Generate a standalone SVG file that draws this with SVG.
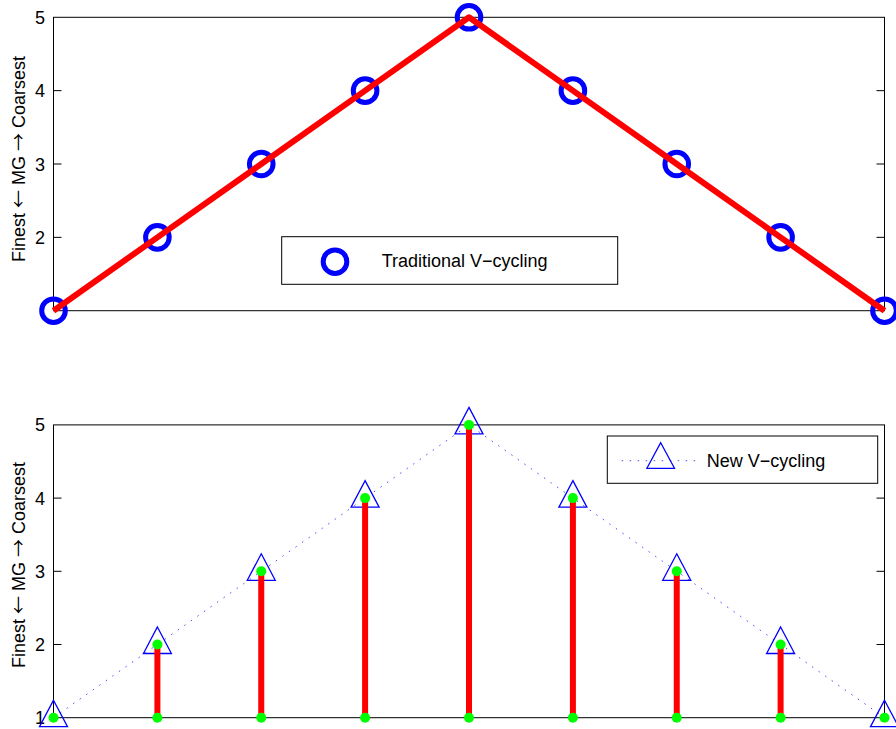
<svg xmlns="http://www.w3.org/2000/svg" xmlns:xlink="http://www.w3.org/1999/xlink" width="896" height="729" viewBox="0 0 896 729">
<style>
text{font-family:"Liberation Sans",Arial,sans-serif;font-size:18px;fill:#000}
.arr{font-family:"Noto Sans CJK SC","DejaVu Sans",sans-serif;font-size:18px}
.frame{fill:none;stroke:#000;stroke-width:1}
.tick{stroke:#000;stroke-width:1}
.ring{fill:none;stroke:#0000ff;stroke-width:5}
.red{fill:none;stroke:#ff0000;stroke-width:6;stroke-linejoin:round}
.stem{stroke:#ff0000;stroke-width:6}
.tri{fill:none;stroke:#0000ff;stroke-width:1.3}
.dot{fill:#00ff00}
.dotted{fill:none;stroke:#4a4aff;stroke-width:1;stroke-dasharray:1.5 6.5}
.legend{fill:#fff;stroke:#000;stroke-width:1}
</style>
<defs>
<path id="triM" d="M0,-17.5 L14,9 L-14,9 Z"/>
</defs>
<rect width="896" height="729" fill="#fff"/>

<g id="axes-top">
<rect class="frame" x="53.5" y="17.3" width="831" height="293.4"/>
<path class="tick" d="M53.5,90.65h8M53.5,164h8M53.5,237.35h8M884.5,90.65h-8M884.5,164h-8M884.5,237.35h-8"/>
<text x="45" y="23.8" text-anchor="end">5</text>
<text x="45" y="97.2" text-anchor="end">4</text>
<text x="45" y="170.5" text-anchor="end">3</text>
<text x="45" y="243.9" text-anchor="end">2</text>
<text transform="translate(25,159) rotate(-90)" text-anchor="middle">Finest <tspan class="arr">←</tspan> MG <tspan class="arr">→</tspan> Coarsest</text>
</g>

<g id="series-top-markers">
<circle class="ring" cx="53.5" cy="310.7" r="11.8"/>
<circle class="ring" cx="157.4" cy="237.35" r="11.8"/>
<circle class="ring" cx="261.25" cy="164" r="11.8"/>
<circle class="ring" cx="365.1" cy="90.65" r="11.8"/>
<circle class="ring" cx="469" cy="17.3" r="11.8"/>
<circle class="ring" cx="572.9" cy="90.65" r="11.8"/>
<circle class="ring" cx="676.75" cy="164" r="11.8"/>
<circle class="ring" cx="780.6" cy="237.35" r="11.8"/>
<circle class="ring" cx="884.5" cy="310.7" r="11.8"/>
</g>
<g id="connectors-top">
<polyline class="red" points="53.5,310.7 157.4,237.35 261.25,164 365.1,90.65 469,17.3 572.9,90.65 676.75,164 780.6,237.35 884.5,310.7"/>
</g>

<g id="legend-top">
<rect class="legend" x="281.7" y="236.7" width="336" height="47.6"/>
<circle class="ring" cx="335" cy="261.7" r="11.8"/>
<text x="381.7" y="267.3">Traditional V−cycling</text>
</g>

<g id="axes-bottom">
<rect class="frame" x="53.5" y="424.9" width="831" height="292.8"/>
<path class="tick" d="M53.5,498.1h8M53.5,571.3h8M53.5,644.5h8M884.5,498.1h-8M884.5,571.3h-8M884.5,644.5h-8"/>
<text x="45" y="431.4" text-anchor="end">5</text>
<text x="45" y="504.6" text-anchor="end">4</text>
<text x="45" y="577.8" text-anchor="end">3</text>
<text x="45" y="651" text-anchor="end">2</text>
<text x="45" y="724.2" text-anchor="end">1</text>
<text transform="translate(25,565) rotate(-90)" text-anchor="middle">Finest <tspan class="arr">←</tspan> MG <tspan class="arr">→</tspan> Coarsest</text>
</g>

<g id="connectors-bottom">
<polyline class="dotted" points="53.5,717.7 157.4,644.5 261.25,571.3 365.1,498.1 469,424.9 572.9,498.1 676.75,571.3 780.6,644.5 884.5,717.7"/>
</g>
<g id="series-bottom-markers">
<use xlink:href="#triM" class="tri" x="53.5" y="717.7"/>
<use xlink:href="#triM" class="tri" x="157.4" y="644.5"/>
<use xlink:href="#triM" class="tri" x="261.25" y="571.3"/>
<use xlink:href="#triM" class="tri" x="365.1" y="498.1"/>
<use xlink:href="#triM" class="tri" x="469" y="424.9"/>
<use xlink:href="#triM" class="tri" x="572.9" y="498.1"/>
<use xlink:href="#triM" class="tri" x="676.75" y="571.3"/>
<use xlink:href="#triM" class="tri" x="780.6" y="644.5"/>
<use xlink:href="#triM" class="tri" x="884.5" y="717.7"/>
</g>
<g id="stems">
<path class="stem" d="M157.4,644.5V717.7M261.25,571.3V717.7M365.1,498.1V717.7M469,424.9V717.7M572.9,498.1V717.7M676.75,571.3V717.7M780.6,644.5V717.7"/>
</g>
<g id="dots">
<circle class="dot" cx="53.5" cy="717.7" r="5"/>
<circle class="dot" cx="157.4" cy="644.5" r="5"/>
<circle class="dot" cx="261.25" cy="571.3" r="5"/>
<circle class="dot" cx="365.1" cy="498.1" r="5"/>
<circle class="dot" cx="469" cy="424.9" r="5"/>
<circle class="dot" cx="572.9" cy="498.1" r="5"/>
<circle class="dot" cx="676.75" cy="571.3" r="5"/>
<circle class="dot" cx="780.6" cy="644.5" r="5"/>
<circle class="dot" cx="884.5" cy="717.7" r="5"/>
<circle class="dot" cx="157.4" cy="717.7" r="5"/>
<circle class="dot" cx="261.25" cy="717.7" r="5"/>
<circle class="dot" cx="365.1" cy="717.7" r="5"/>
<circle class="dot" cx="469" cy="717.7" r="5"/>
<circle class="dot" cx="572.9" cy="717.7" r="5"/>
<circle class="dot" cx="676.75" cy="717.7" r="5"/>
<circle class="dot" cx="780.6" cy="717.7" r="5"/>
</g>

<g id="legend-bottom">
<rect class="legend" x="607.3" y="436" width="270.4" height="47.3"/>
<line class="dotted" x1="621.7" y1="460.7" x2="698.3" y2="460.7"/>
<path class="tri" d="M660.7,442.7 L674.5,468.3 L646.9,468.3 Z"/>
<text x="706.7" y="466.7">New V−cycling</text>
</g>
</svg>
